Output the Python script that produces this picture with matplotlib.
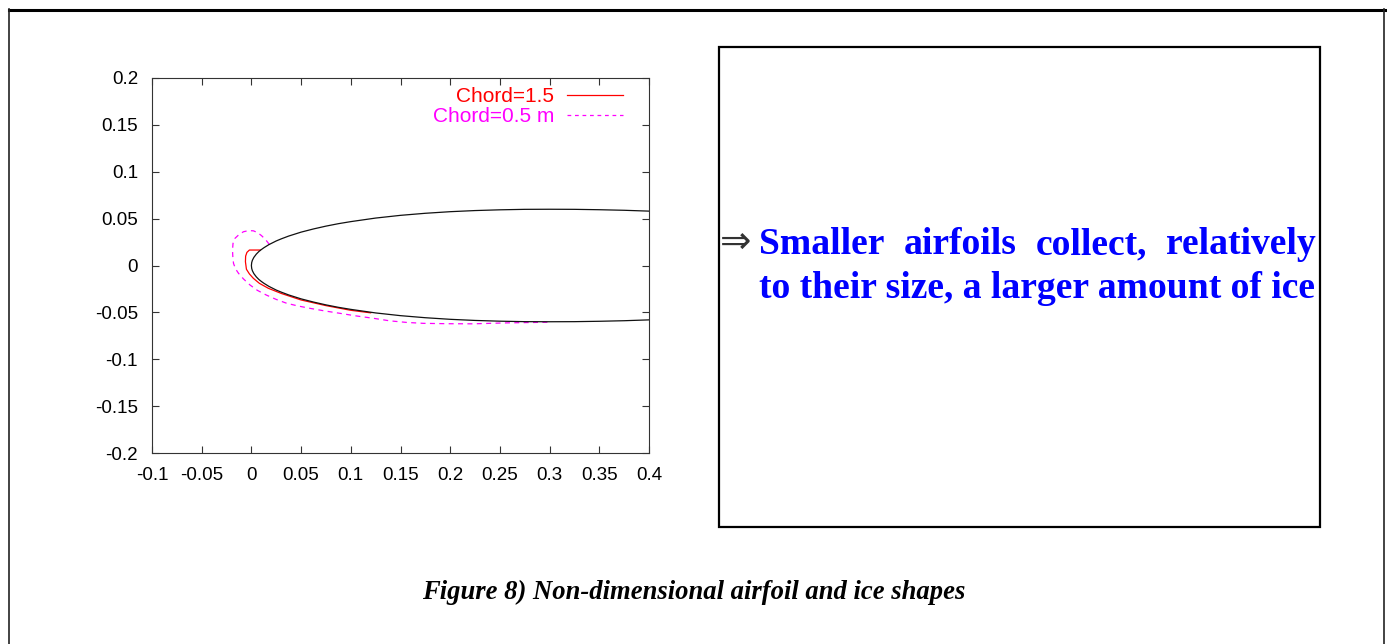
"""
Recreates "Figure 8) Non-dimensional airfoil and ice shapes":
airfoil outline with two ice accretions (left) and a text box (right).
"""

import matplotlib
matplotlib.use("Agg")
import matplotlib.pyplot as plt
from matplotlib.lines import Line2D
from matplotlib.patches import Rectangle

W, H = 1387, 644

# ── Data ──────────────────────────────────────────────────────────────────────
# clean airfoil, half thickness vs. x (upper = +t, lower = -t)
airfoil_x = [0.0, 0.0003, 0.001, 0.0025, 0.005, 0.0075, 0.01, 0.0125, 0.0175,
             0.025, 0.03, 0.0375, 0.05, 0.0625, 0.075, 0.0875, 0.1, 0.125,
             0.15, 0.175, 0.2, 0.225, 0.25, 0.275, 0.3, 0.325, 0.35, 0.375,
             0.4, 0.45, 0.5]
airfoil_t = [0.0, 0.0031, 0.0056, 0.0087, 0.0122, 0.0149, 0.0170, 0.0189,
             0.0222, 0.0262, 0.0284, 0.0314, 0.0356, 0.0390, 0.0420, 0.0446,
             0.0468, 0.0506, 0.0535, 0.0557, 0.0574, 0.0586, 0.0594, 0.0599,
             0.0600, 0.0599, 0.0595, 0.0589, 0.0580, 0.0558, 0.0529]

# ice shape, chord = 1.5 m
ice15_x = [0.009, -0.002, -0.0045, -0.0058, -0.0060, -0.0050, -0.0020, 0.002,
           0.008, 0.017, 0.030, 0.050, 0.075, 0.100, 0.120]
ice15_y = [0.0165, 0.0165, 0.0140, 0.0100, 0.0040, -0.0040, -0.0090, -0.0137,
           -0.0190, -0.0243, -0.0298, -0.0368, -0.0428, -0.0478, -0.0505]

# ice shape, chord = 0.5 m
ice05_x = [0.018, 0.014, 0.010, 0.006, 0.002, -0.003, -0.008, -0.0125,
           -0.0165, -0.0185, -0.019, -0.0187, -0.018, -0.016, -0.013, -0.008,
           -0.0014, 0.006, 0.015, 0.025, 0.0355, 0.047, 0.059, 0.074, 0.089,
           0.1055, 0.1227, 0.139, 0.156, 0.173, 0.198, 0.223, 0.257, 0.300]
ice05_y = [0.0225, 0.028, 0.032, 0.0352, 0.037, 0.0372, 0.036, 0.033,
           0.029, 0.0235, 0.0165, 0.0095, 0.0023, -0.0035, -0.0083, -0.0143,
           -0.0208, -0.0265, -0.0315, -0.0362, -0.0403, -0.0432, -0.0457,
           -0.0485, -0.051, -0.0538, -0.0563, -0.0590, -0.0607, -0.0617,
           -0.0621, -0.0622, -0.0612, -0.0605]

xticks = [-0.1, -0.05, 0.0, 0.05, 0.1, 0.15, 0.2, 0.25, 0.3, 0.35, 0.4]
xtick_labels = ["-0.1", "-0.05", "0", "0.05", "0.1", "0.15", "0.2", "0.25",
                "0.3", "0.35", "0.4"]
yticks = [-0.2, -0.15, -0.1, -0.05, 0.0, 0.05, 0.1, 0.15, 0.2]
ytick_labels = ["-0.2", "-0.15", "-0.1", "-0.05", "0", "0.05", "0.1", "0.15",
                "0.2"]

series_labels = ["Chord=1.5", "Chord=0.5 m"]
line1_words = ["Smaller", "airfoils", "collect,", "relatively"]
line2_text = "to their size, a larger amount of ice"
caption = "Figure 8) Non-dimensional airfoil and ice shapes"


def fx(px):
    return px / W


def fy(py):
    return 1 - py / H


fig = plt.figure(figsize=(W / 100, H / 100), dpi=100)
fig.patch.set_facecolor("white")

# ── Plot panel ────────────────────────────────────────────────────────────────
ax = fig.add_axes([fx(152), fy(453), (649 - 152) / W, (453 - 78) / H])

upper = list(zip(airfoil_x, airfoil_t))[::-1]
lower = [(x, -t) for x, t in zip(airfoil_x, airfoil_t)][1:]
outline = upper + lower
ax.plot([p[0] for p in outline], [p[1] for p in outline],
        color="#111111", lw=0.9, zorder=3)
ax.plot(ice15_x, ice15_y, color="#ff0000", lw=0.9, zorder=2)
ax.plot(ice05_x, ice05_y, color="#ff00ff", lw=0.9, dashes=(4, 3.5), zorder=2)

ax.set_xlim(-0.1, 0.4)
ax.set_ylim(-0.2, 0.2)
ax.set_xticks(xticks)
ax.set_xticklabels(xtick_labels)
ax.set_yticks(yticks)
ax.set_yticklabels(ytick_labels)
ax.tick_params(direction="in", length=5, width=0.8, top=True, right=True,
               labelsize=13.5, color="#333333", labelcolor="black")
ax.tick_params(axis="y", pad=10)
ax.tick_params(axis="x", pad=10)
for lab in ax.get_xticklabels() + ax.get_yticklabels():
    lab.set_fontfamily("Liberation Sans")
for sp in ax.spines.values():
    sp.set_color("#333333")
    sp.set_linewidth(0.8)

# gnuplot-style key: right-aligned text, sample line to the right
key_colors = ["#ff0000", "#ff00ff"]
key_dashes = [None, (3, 3)]
key_rows = [95, 115]
for label, color, dash, row in zip(series_labels, key_colors, key_dashes, key_rows):
    fig.text(fx(554), fy(row + 1.5), label, color=color, fontsize=15,
             family="Liberation Sans", ha="right", va="center")
    ln = Line2D([fx(567), fx(623)], [fy(row), fy(row)], color=color, lw=0.9,
                transform=fig.transFigure)
    if dash:
        ln.set_dashes(dash)
    fig.add_artist(ln)

# ── Outer frame ───────────────────────────────────────────────────────────────
fig.add_artist(Line2D([fx(9), fx(W)], [fy(9.5), fy(9.5)], color="black",
                      lw=2.2, transform=fig.transFigure))
fig.add_artist(Line2D([fx(9), fx(9)], [fy(9), fy(H)], color="#222222",
                      lw=1.2, transform=fig.transFigure))
fig.add_artist(Line2D([fx(1384), fx(1384)], [fy(9), fy(H)], color="#222222",
                      lw=1.2, transform=fig.transFigure))

# ── Text box ──────────────────────────────────────────────────────────────────
fig.add_artist(Rectangle((fx(719), fy(527)), (1320 - 719) / W, (527 - 47) / H,
                         fill=False, edgecolor="black", lw=1.6,
                         transform=fig.transFigure))

fig.text(fx(736), fy(243), "\u21d2", fontsize=27, family="DejaVu Sans",
         color="#333333", ha="center", va="center")

renderer = fig.canvas.get_renderer()
serif = dict(family="Liberation Serif", weight="bold", color="#0000ff")

# second line sets the font size (left-aligned, 759 -> 1314 px)
size = 27
t2 = fig.text(fx(759), fy(298), line2_text, fontsize=size, ha="left",
              va="baseline", **serif)
width = t2.get_window_extent(renderer).width
size = size * (1314 - 759) / width
t2.set_fontsize(size)

# first line is justified between 759 and 1316 px
words = [fig.text(0, fy(254), w, fontsize=size, ha="left", va="baseline", **serif)
         for w in line1_words]
widths = [w.get_window_extent(renderer).width for w in words]
gap = ((1316 - 759) - sum(widths)) / (len(words) - 1)
pos = 759
for w, wd in zip(words, widths):
    w.set_x(fx(pos))
    pos += wd + gap

# ── Caption ───────────────────────────────────────────────────────────────────
cap = fig.text(fx(694), fy(599), caption, fontsize=16, family="Liberation Serif",
               weight="bold", style="italic", ha="center", va="baseline")
cw = cap.get_window_extent(renderer).width
cap.set_fontsize(16 * (965 - 423) / cw)

fig.savefig("out.png", dpi=100)
